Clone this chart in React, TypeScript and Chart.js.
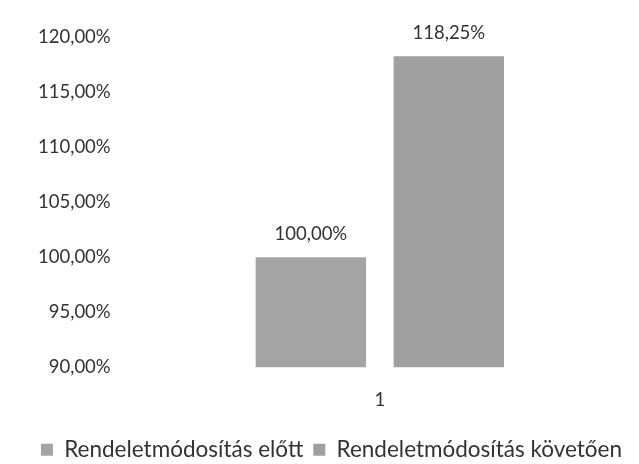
import React, { useEffect, useRef } from "react";
import { Chart, registerables } from "chart.js";

Chart.register(...registerables);

const categories = ["1"];
const seriesNames = ["Rendeletmódosítás előtt", "Rendeletmódosítás követően"];
const beforeValues = [100.0];
const afterValues = [118.25];
const yMin = 90;
const yMax = 120;
const yStep = 5;

const fmt = (v: number) => v.toFixed(2).replace(".", ",") + "%";

const FONT = "Lato";
const TEXT = "#333333";

const dataLabels = {
  id: "dataLabels",
  afterDatasetsDraw(chart: any) {
    const ctx = chart.ctx;
    ctx.save();
    ctx.font = `18.5px ${FONT}`;
    ctx.fillStyle = TEXT;
    ctx.textAlign = "center";
    ctx.textBaseline = "alphabetic";
    chart.data.datasets.forEach((ds: any, i: number) => {
      const meta = chart.getDatasetMeta(i);
      meta.data.forEach((el: any, j: number) => {
        ctx.fillText(fmt(ds.data[j]), el.x, el.y - 17);
      });
    });
    ctx.restore();
  },
};

export default function App() {
  const ref = useRef<HTMLCanvasElement>(null);
  useEffect(() => {
    document.body.style.margin = "0";
    const chart = new Chart(ref.current!, {
      type: "bar",
      data: {
        labels: categories,
        datasets: [
          {
            label: seriesNames[0],
            data: beforeValues,
            backgroundColor: "#a4a4a4",
            categoryPercentage: 0.545,
            barPercentage: 0.8,
          },
          {
            label: seriesNames[1],
            data: afterValues,
            backgroundColor: "#a0a0a0",
            categoryPercentage: 0.545,
            barPercentage: 0.8,
          },
        ],
      },
      options: {
        animation: false,
        responsive: false,
        layout: { padding: { top: 37, left: 30, right: 6, bottom: -7 } },
        plugins: {
          tooltip: { enabled: false },
          legend: {
            position: "bottom",
            labels: {
              boxWidth: 12,
              boxHeight: 12,
              color: TEXT,
              font: { family: FONT, size: 22.5 },
              padding: 10,
            },
          },
        },
        scales: {
          x: {
            grid: { display: false },
            border: { display: false },
            ticks: { color: TEXT, font: { family: FONT, size: 18.5 }, padding: 14 },
            afterFit: (scale: any) => {
              scale.height += 3;
            },
          },
          y: {
            min: yMin,
            max: yMax,
            grid: { display: false },
            border: { display: false },
            ticks: {
              stepSize: yStep,
              color: TEXT,
              font: { family: FONT, size: 18.5 },
              padding: 8,
              callback: (v: any) => fmt(Number(v)),
            },
          },
        },
      },
      plugins: [dataLabels],
    });
    return () => chart.destroy();
  }, []);
  return <canvas ref={ref} width={639} height={464} style={{ display: "block" }} />;
}
